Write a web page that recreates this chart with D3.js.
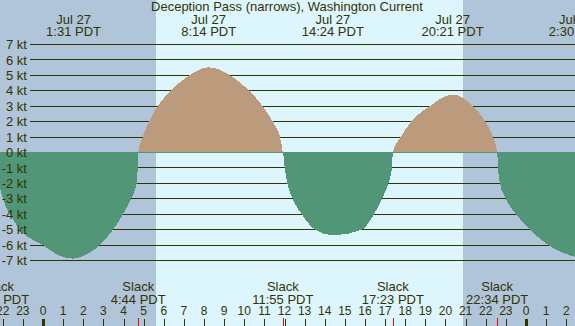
<!DOCTYPE html>
<html>
<head>
<meta charset="utf-8">
<script src="https://cdn.jsdelivr.net/npm/d3@7"></script>
<style>
html, body { margin: 0; padding: 0; overflow: hidden; background: #fff; }
svg { display: block; font-family: "Liberation Sans", Arial, sans-serif; }
</style>
</head>
<body>
<div id="chart"></div>
<script>
var title = 'Deception Pass (narrows), Washington Current';

// hours after midnight Jul 27 (negative = Jul 26, above 24 = Jul 28), current in knots
var hours = [-2.233, -2.137, -1.988, -1.640, -1.143, 0.000, 0.745, 1.517, 2.236, 2.832, 3.478, 3.975, 4.373, 4.656, 4.706,
             4.733, 4.954, 5.267, 5.699, 6.345, 7.270, 8.233, 9.292, 10.251, 10.917, 11.414, 11.776,
             11.917, 12.010, 12.139, 12.407, 12.855, 13.516, 14.400, 15.851, 16.447, 16.845, 17.158, 17.342,
             17.383, 17.774, 18.300, 19.215, 20.350, 21.366, 21.978, 22.360,
             22.567, 22.609, 22.708, 23.006, 23.503, 24.199, 25.108, 26.500];
var knots = [0, -2.2, -3, -4, -5, -6, -6.65, -6.88, -6.55, -6, -5, -4, -3, -2, -1,
             0, 1, 2, 3, 4, 5, 5.52, 5, 4, 3, 2, 1,
             0, -1, -2, -3, -4, -5, -5.37, -5, -4, -3, -2, -1,
             0, 1, 2, 3, 3.75, 3, 2, 1,
             0, -1, -2, -3, -4, -5, -6, -6.8];

var sun_times = [5.617, 20.867];          // sunrise 5:37, sunset 20:52
var max_hours = [1.517, 8.233, 14.4, 20.35, 26.5];
var max_dates = ['Jul 27', 'Jul 27', 'Jul 27', 'Jul 27', 'Jul 28'];
var max_labels = ['1:31 PDT', '8:14 PDT', '14:24 PDT', '20:21 PDT', '2:30 PDT'];
var slack_hours = [-2.233, 4.733, 11.917, 17.383, 22.567];
var slack_labels = ['21:46 PDT', '4:44 PDT', '11:55 PDT', '17:23 PDT', '22:34 PDT'];
var kt_ticks = [7, 6, 5, 4, 3, 2, 1, 0, -1, -2, -3, -4, -5, -6, -7];
var hour_ticks = [-2, -1, 0, 1, 2, 3, 4, 5, 6, 7, 8, 9, 10, 11, 12, 13, 14, 15, 16, 17, 18, 19, 20, 21, 22, 23, 24, 25, 26];

var width = 575, height = 326;
var ink = '#333300', night = '#b0c4da', day = '#ddf6fe', flood = '#bb9b7c', ebb = '#519676';

var x = d3.scaleLinear().domain([-2.137, 26.435]).range([0, width]);
var y = d3.scaleLinear().domain([-7, 7]).range([260.5, 44.5]);

var svg = d3.select('#chart').append('svg').attr('width', width).attr('height', height);

// night / day background
svg.append('rect').attr('width', width).attr('height', height).attr('fill', night);
svg.append('rect')
    .attr('x', Math.round(x(sun_times[0])))
    .attr('width', Math.round(x(sun_times[1])) - Math.round(x(sun_times[0])))
    .attr('height', height).attr('fill', day);

// knot grid lines
var crisp = d => Math.floor(y(d)) + 0.5;
svg.selectAll('.grid').data(kt_ticks).enter().append('line').attr('class', 'grid')
    .attr('x1', 30).attr('x2', width)
    .attr('y1', crisp).attr('y2', crisp)
    .attr('stroke', ink).attr('stroke-width', 1);

// current curve, split into flood (above 0) and ebb (below 0)
var points = hours.map((h, i) => [h, knots[i]]);
var area = d3.area().x(d => x(d[0])).y0(y(0)).y1(d => y(d[1])).curve(d3.curveMonotoneX);
var zero_row = Math.floor(y(0));
var defs = svg.append('defs');
defs.append('clipPath').attr('id', 'clip_flood').append('rect')
    .attr('x', 0).attr('y', 0).attr('width', width).attr('height', zero_row + 1);
defs.append('clipPath').attr('id', 'clip_ebb').append('rect')
    .attr('x', 0).attr('y', zero_row).attr('width', width).attr('height', height);

svg.append('path').datum(points).attr('d', area).attr('fill', flood)
    .attr('clip-path', 'url(#clip_flood)').attr('shape-rendering', 'crispEdges');
svg.append('line').attr('x1', 30).attr('x2', width).attr('y1', crisp(0)).attr('y2', crisp(0))
    .attr('stroke', ink);
svg.append('path').datum(points.map(d => [d[0], Math.min(d[1], 0)]))
    .attr('d', area.y0(zero_row)).attr('fill', ebb)
    .attr('clip-path', 'url(#clip_ebb)').attr('shape-rendering', 'crispEdges');

// kt labels sit on top of the fills
svg.selectAll('.kt').data(kt_ticks).enter().append('text').attr('class', 'kt')
    .attr('x', 27).attr('y', d => y(d)).attr('dy', '0.36em')
    .attr('text-anchor', 'end').attr('fill', ink).attr('font-size', 13)
    .text(d => d + ' kt');

// title and max current labels at top
svg.append('text').attr('x', 287).attr('y', 11).attr('text-anchor', 'middle')
    .attr('fill', ink).attr('font-size', 13).text(title);
var tops = svg.selectAll('.max').data(max_hours).enter().append('g').attr('class', 'max');
tops.append('text').attr('x', d => x(d)).attr('y', 24).attr('text-anchor', 'middle')
    .attr('fill', ink).attr('font-size', 13).text((d, i) => max_dates[i]);
tops.append('text').attr('x', d => x(d)).attr('y', 36).attr('text-anchor', 'middle')
    .attr('fill', ink).attr('font-size', 13).text((d, i) => max_labels[i]);

// slack labels at bottom
var slacks = svg.selectAll('.slack').data(slack_hours).enter().append('g').attr('class', 'slack');
slacks.append('text').attr('x', d => x(d)).attr('y', 291).attr('text-anchor', 'middle')
    .attr('fill', ink).attr('font-size', 13).text('Slack');
slacks.append('text').attr('x', d => x(d)).attr('y', 304).attr('text-anchor', 'middle')
    .attr('fill', ink).attr('font-size', 13).text((d, i) => slack_labels[i]);

// hour axis
var hx = h => Math.round(x(h)) + 0.5;
svg.selectAll('.htick').data(hour_ticks).enter().append('line').attr('class', 'htick')
    .attr('x1', hx).attr('x2', hx).attr('y1', 319).attr('y2', height)
    .attr('stroke', ink).attr('stroke-width', d => (d % 24 === 0 ? 3 : 1));
svg.selectAll('.hlabel').data(hour_ticks).enter().append('text').attr('class', 'hlabel')
    .attr('x', d => x(d)).attr('y', 315).attr('text-anchor', 'middle')
    .attr('fill', ink).attr('font-size', 12)
    .text(d => ((d % 24) + 24) % 24);
svg.selectAll('.stick').data(slack_hours).enter().append('line').attr('class', 'stick')
    .attr('x1', hx).attr('x2', hx).attr('y1', 318).attr('y2', height)
    .attr('stroke', '#ff0000').attr('stroke-width', 1);
</script>
</body>
</html>
